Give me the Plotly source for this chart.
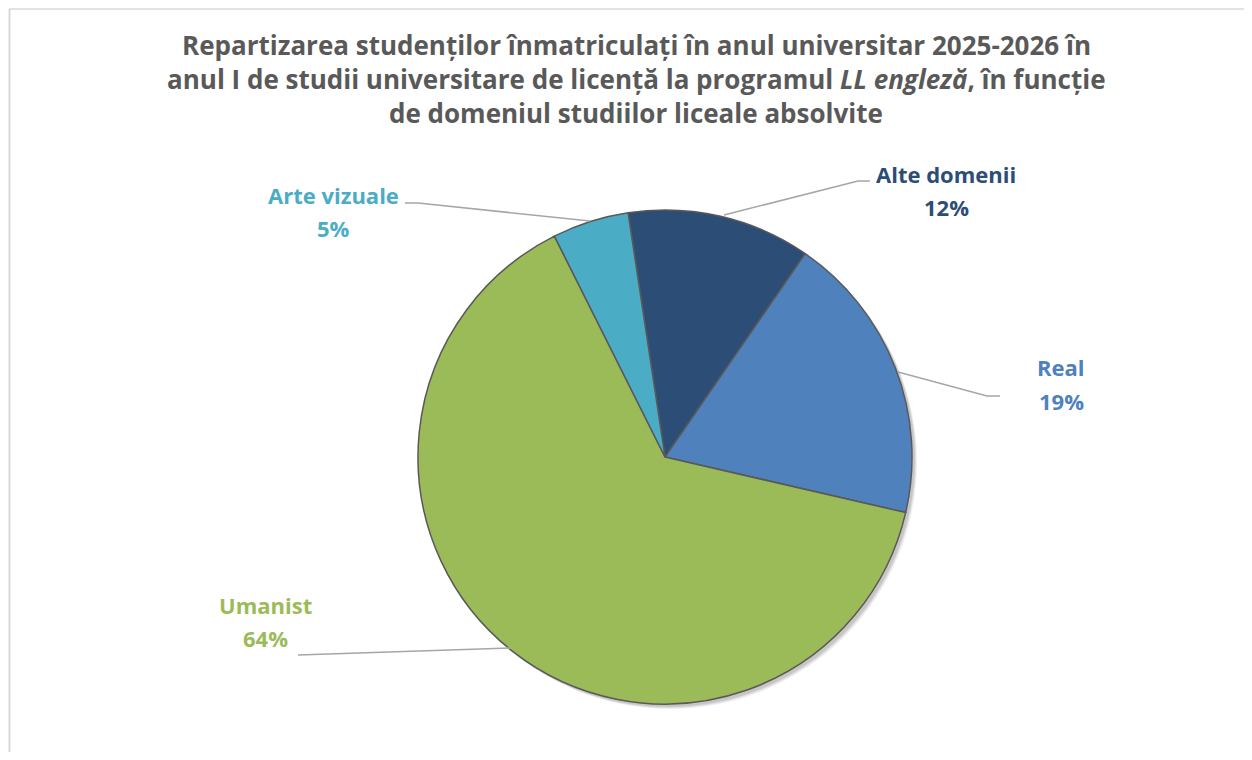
import plotly.graph_objects as go

# page offset: browser body margin of 8px
OFF = 8
W, H = 1252 - 2 * OFF, 760 - 2 * OFF

categories = ["Alte domenii", "Real", "Umanist", "Arte vizuale"]
percent_values = [12, 19, 64, 5]
percent_labels = ["12%", "19%", "64%", "5%"]
colors = ["#2C4D75", "#4F81BD", "#9BBB59", "#4BACC6"]

title_lines = [
    "Repartizarea studenților înmatriculați în anul universitar 2025-2026 în",
    "anul I de studii universitare de licență la programul <i>LL engleză</i>, în funcție",
    "de domeniul studiilor liceale absolvite",
]


def px(x):
    return (x - OFF) / W


def py(y):
    return 1 - (y - OFF) / H


cx, cy, r = 665, 457, 247
dom_x = [px(cx - r), px(cx + r)]
dom_y = [py(cy + r), py(cy - r)]

fig = go.Figure()

# soft shadow
for d, a in [(5, 0.06), (4, 0.08), (3, 0.1)]:
    fig.add_trace(go.Pie(
        values=[1], labels=["shadow"], sort=False,
        domain=dict(x=[px(cx - r + d), px(cx + r + d)], y=[py(cy + r + d), py(cy - r + d)]),
        marker=dict(colors=[f"rgba(0,0,0,{a})"], line=dict(width=0)),
        textinfo="none", hoverinfo="skip", showlegend=False,
    ))

fig.add_trace(go.Pie(
    labels=categories, values=percent_values, sort=False,
    direction="clockwise", rotation=-8.6,
    domain=dict(x=dom_x, y=dom_y),
    marker=dict(colors=colors, line=dict(color="#595959", width=1.5)),
    textinfo="none", showlegend=False,
))

font_family = "'Open Sans', Lato, sans-serif"

annotations = []
for i, line in enumerate(title_lines):
    annotations.append(dict(
        text=line, x=px(636), y=py(45 + 34 * i), xref="paper", yref="paper",
        xanchor="center", yanchor="middle", showarrow=False,
        font=dict(family=font_family, size=26, color="#595959", weight="bold"),
    ))

label_pos = {
    "Alte domenii": (946, 191),
    "Real": (1061, 384),
    "Umanist": (265, 621),
    "Arte vizuale": (334, 211),
}
for cat, pl, col in zip(categories, percent_labels, colors):
    x, y = label_pos[cat]
    for j, t in enumerate([cat, pl]):
        annotations.append(dict(
            text=t, x=px(x), y=py(y - 16.5 + 33 * j), xref="paper", yref="paper",
            xanchor="center", yanchor="middle", showarrow=False, align="center",
            font=dict(family=font_family, size=22, color=col, weight="bold"),
        ))


def path(points):
    return "M " + " L ".join(f"{px(x)},{py(y)}" for x, y in points)


leaders = [
    [(405, 203), (418, 203), (590, 221)],
    [(870, 181), (858, 181), (724, 215)],
    [(898, 372), (987, 396), (1000, 396)],
    [(298, 655), (510, 648)],
]
shapes = []
for pts in leaders:
    shapes.append(dict(type="path", xref="paper", yref="paper", path=path(pts),
                       line=dict(color="#A6A6A6", width=1.5)))

# chart border
shapes.append(dict(type="line", xref="paper", yref="paper", x0=px(9.5), x1=px(9.5), y0=py(9), y1=0,
                   line=dict(color="#D9D9D9", width=2)))
shapes.append(dict(type="line", xref="paper", yref="paper", x0=px(9), x1=1, y0=py(9), y1=py(9),
                   line=dict(color="#D9D9D9", width=1.5)))

fig.update_layout(
    width=W, height=H,
    margin=dict(l=0, r=0, t=0, b=0),
    paper_bgcolor="white", plot_bgcolor="white",
    annotations=annotations, shapes=shapes,
    showlegend=False,
)

fig.write_html("out.html")
